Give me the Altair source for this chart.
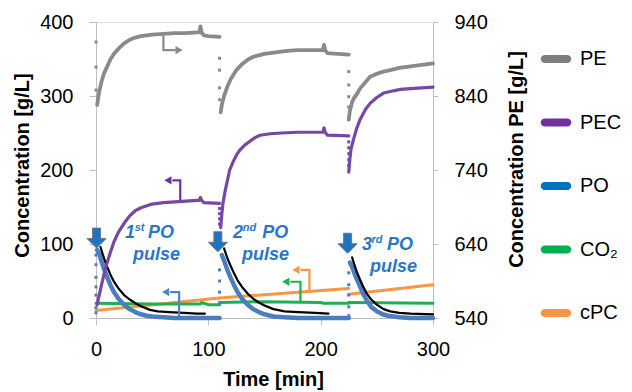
import altair as alt
import pandas as pd

# ---------------- data ----------------
# PE (right axis, g/L), three segments
PE_T = [[1, 2, 3, 5, 7, 10, 13, 16, 20, 25, 30, 35, 40, 50, 60, 70, 80, 90, 92, 93, 94, 96, 100, 110],
        [111, 112, 114, 117, 120, 125, 130, 135, 140, 150, 160, 170, 180, 190, 200, 202, 203, 204, 206, 215, 225],
        [225, 226, 228, 230, 232, 235, 240, 244, 250, 256, 262, 270, 280, 290, 300]]
PE_V = [[828, 838, 847, 860, 870, 880, 890, 897, 904, 911, 916, 919, 921, 923, 924, 925, 925, 926, 926, 934, 926, 922, 921, 920],
        [818, 828, 840, 853, 863, 875, 883, 889, 893, 897, 899, 901, 902, 902, 902, 902, 909, 902, 898, 897, 896],
        [808, 820, 832, 838, 842, 850, 859, 866, 870, 873, 875, 878, 880, 882, 884]]
PE_DOT_T = [0, 0, 0, 110, 110, 110, 110, 225, 225, 225, 225]
PE_DOT_V = [913, 879, 848, 891, 875, 851, 835, 873, 855, 839, 825]

PEC_T = [[1, 2, 3, 5, 8, 12, 16, 20, 25, 30, 35, 40, 50, 60, 70, 80, 90, 92, 93, 94, 96, 110],
         [111, 112, 113, 115, 117, 119, 122, 125, 128, 132, 137, 142, 146, 155, 165, 180, 200, 202, 203, 204, 206, 225],
         [225, 226, 227, 229, 232, 235, 240, 244, 250, 256, 262, 271, 280, 290, 300]]
PEC_V = [[18, 25, 32, 45, 65, 85, 103, 116, 128, 138, 145, 149, 154, 156, 157, 158, 159, 159, 163, 159, 156, 155],
         [122, 140, 155, 172, 186, 200, 211, 220, 227, 233, 239, 244, 247, 249, 250, 251, 251, 251, 257, 251, 247, 246],
         [197, 215, 228, 240, 256, 268, 282, 290, 298, 304, 306, 309, 310, 311, 312]]
PEC_DOT_T = [110, 110, 110, 110, 225, 225, 225, 225, 225]
PEC_DOT_V = [148, 141, 134, 127, 238, 230, 222, 214, 206]

PO_T = [[1, 3, 5, 7, 10, 13, 16, 20, 25, 30, 35, 40, 45, 50, 60, 70, 110],
        [112, 114, 116, 118, 120, 123, 126, 130, 135, 140, 145, 150, 158, 168, 180, 225],
        [226, 228, 230, 232, 235, 238, 241, 245, 250, 255, 260, 265, 270, 280, 300]]
PO_V = [[92, 86, 76, 67, 55, 44, 35, 26, 18, 12, 8, 5, 3, 2, 1, 0, 0],
        [85, 78, 69, 61, 54, 44, 35, 26, 18, 12, 8, 5, 2, 1, 0, 0],
        [75, 69, 61, 53, 43, 32, 24, 15, 9, 5, 3, 2, 1, 0, 0]]
PO_DOT_T = [0, 0, 0, 0, 0, 0, 0, 110, 110, 110, 110, 225, 225, 225, 225, 225]
PO_DOT_V = [85, 72, 55, 42, 31, 14, 7, 65, 50, 35, 20, 61, 45, 31, 15, 3]

MODEL_T = [[4, 6, 8, 10, 13, 16, 20, 25, 30, 35, 40, 48, 55, 65, 78, 90, 97],
           [114, 116, 118, 120, 123, 126, 130, 135, 140, 145, 150, 158, 168, 180, 195, 207],
           [228, 230, 232, 235, 238, 241, 245, 250, 256, 262, 270, 280, 300]]
MODEL_V = [[96, 86, 77, 69, 58, 49, 40, 31, 25, 20, 16, 11, 9, 8, 7, 6, 6],
           [94, 85, 77, 70, 60, 51, 42, 33, 26, 21, 17, 12, 9, 8, 7, 6],
           [82, 72, 63, 52, 42, 33, 25, 18, 12, 9, 7, 6, 5]]

CO2_T = [[0, 50, 93, 94, 100, 110], [110, 150, 200, 202, 225], [225, 300]]
CO2_V = [[20, 19, 19, 21, 18, 18], [21, 22, 21, 20, 20], [21, 20]]

CPC_T = [[0, 110], [110, 225], [225, 300]]
CPC_V = [[10, 27], [27, 40], [32, 45]]

# bent axis-pointer arrows: (t list, value list, tip t, tip v, tip direction, colour, axis)
POINTERS = [
    ([60, 60, 71], [922, 902, 902], 74, 902, "triangle-right", "#8a8a8a", "right"),
    ([75, 75, 68], [159, 186, 186], 64, 186, "triangle-left", "#7030a0", "left"),
    ([74, 74, 66], [2, 35, 35], 62, 35, "triangle-left", "#4f83c6", "left"),
    ([190, 190, 182], [36, 65, 65], 178, 65, "triangle-left", "#f79646", "left"),
    ([182, 182, 173], [21, 49, 49], 169, 49, "triangle-left", "#1fae50", "left"),
]

# pulse markers
PULSE_T = [0.5, 108.5, 224]
PULSE_V = [108, 103, 101]

# pulse labels
LBL_T = [25.8, 122.0, 236.8, 46.3, 148.0, 259.0, 32.9, 130.0, 243.9]
LBL_V = [108, 108, 92, 108, 108, 92, 78, 78, 62]
LBL_TXT = ["1", "2", "3", "PO", "PO", "PO", "pulse", "pulse", "pulse"]
SUP_T = [34.4, 130.6, 245.3]
SUP_V = [117, 117, 101]
SUP_TXT = ["st", "nd", "rd"]

LEG_NAMES = ["PE", "PEC", "PO", "CO₂", "cPC"]
LEG_COLORS = ["#7f7f7f", "#7030a0", "#0070c0", "#00b050", "#f79646"]

# ---------------- chart ----------------
FONT = "Liberation Sans"
AX = "#bfbfbf"

X = alt.X("t:Q", scale=alt.Scale(domain=[0, 300], nice=False, zero=False),
          axis=alt.Axis(values=[0, 100, 200, 300], title="Time [min]", grid=False,
                        domainColor=AX, tickColor=AX, tickSize=7, labelPadding=14,
                        labelFont=FONT, labelFontSize=20, labelColor="black", labelFlush=False,
                        titleFont=FONT, titleFontSize=20, titleFontWeight="bold", titleColor="black",
                        titleX=177, titleY=61, titleBaseline="middle", titleAlign="center"))

YL = alt.Y("v:Q", scale=alt.Scale(domain=[0, 400], nice=False, zero=False),
           axis=alt.Axis(values=[0, 100, 200, 300, 400], title="Concentration [g/L]", grid=False,
                         domainColor=AX, tickColor=AX, tickSize=7, labelPadding=16,
                         labelFont=FONT, labelFontSize=20, labelColor="black", labelFlush=False,
                         titleFont=FONT, titleFontSize=20, titleFontWeight="bold", titleColor="black",
                         titleAngle=270, titleX=-74, titleY=143, titleAlign="center",
                         titleBaseline="middle"))

YR = alt.Y("v:Q", scale=alt.Scale(domain=[540, 940], nice=False, zero=False),
           axis=alt.Axis(orient="right", values=[540, 640, 740, 840, 940],
                         title="Concentration PE [g/L]", grid=False,
                         domainColor=AX, tickColor=AX, tickSize=5, labelPadding=16,
                         labelFont=FONT, labelFontSize=20, labelColor="black", labelFlush=False,
                         titleFont=FONT, titleFontSize=20, titleFontWeight="bold", titleColor="black",
                         titleAngle=270, titleX=83, titleY=137, titleAlign="center",
                         titleBaseline="middle"))


def seg_df(ts, vs):
    rows = []
    for s, (tt, vv) in enumerate(zip(ts, vs)):
        for i, (a, b) in enumerate(zip(tt, vv)):
            rows.append({"t": a, "v": b, "seg": s, "i": i})
    return pd.DataFrame(rows)


def line(ts, vs, color, width, y):
    return alt.Chart(seg_df(ts, vs)).mark_line(
        color=color, strokeWidth=width, strokeCap="round", strokeJoin="round"
    ).encode(x=X, y=y, detail="seg:N", order="i:Q")


def dots(ts, vs, color, y):
    return alt.Chart(pd.DataFrame({"t": ts, "v": vs})).mark_square(
        color=color, size=9, filled=True, opacity=1).encode(x=X, y=y)


left_layers = [
    line(CPC_T, CPC_V, "#f79646", 3, YL),
    line(CO2_T, CO2_V, "#1fae50", 3, YL),
    line(PO_T, PO_V, "#4a7ebf", 4.5, YL),
    dots(PO_DOT_T, PO_DOT_V, "#4a7ebf", YL),
    line(MODEL_T, MODEL_V, "black", 2.2, YL),
    line(PEC_T, PEC_V, "#7448a3", 3.2, YL),
    dots(PEC_DOT_T, PEC_DOT_V, "#7448a3", YL),
]
right_layers = [
    line(PE_T, PE_V, "#8a8a8a", 3.8, YR),
    dots(PE_DOT_T, PE_DOT_V, "#8a8a8a", YR),
]

for tt, vv, tipt, tipv, shape, col, side in POINTERS:
    y = YR if side == "right" else YL
    pl = alt.Chart(pd.DataFrame({"t": tt, "v": vv, "i": list(range(len(tt)))})).mark_line(
        color=col, strokeWidth=2.2).encode(x=X, y=y, order="i:Q")
    tip = alt.Chart(pd.DataFrame({"t": [tipt], "v": [tipv]})).mark_point(
        shape=shape, filled=True, color=col, size=70, opacity=1).encode(x=X, y=y)
    if side == "right":
        right_layers += [pl, tip]
    else:
        left_layers += [pl, tip]

ARROW = "M-0.4,-1 L0.4,-1 L0.4,0.05 L0.95,0.05 L0,1 L-0.95,0.05 L-0.4,0.05 Z"
left_layers.append(
    alt.Chart(pd.DataFrame({"t": PULSE_T, "v": PULSE_V})).mark_point(
        shape=ARROW, size=400, filled=True, fill="#1f74c2", stroke="#6b7785",
        strokeWidth=1, opacity=1).encode(x=X, y=YL))

TXT_COLOR = "#2a78c4"
left_layers.append(
    alt.Chart(pd.DataFrame({"t": LBL_T, "v": LBL_V, "txt": LBL_TXT})).mark_text(
        font=FONT, fontSize=18, fontStyle="italic", fontWeight="bold", color=TXT_COLOR,
        align="left", baseline="alphabetic").encode(x=X, y=YL, text="txt:N"))
left_layers.append(
    alt.Chart(pd.DataFrame({"t": SUP_T, "v": SUP_V, "txt": SUP_TXT})).mark_text(
        font=FONT, fontSize=11, fontStyle="italic", fontWeight="bold", color=TXT_COLOR,
        align="left", baseline="alphabetic").encode(x=X, y=YL, text="txt:N"))

LEG_PATH = ("M-0.75,-0.27 L0.75,-0.27 A0.27,0.27 0 0 1 0.75,0.27 "
            "L-0.75,0.27 A0.27,0.27 0 0 1 -0.75,-0.27 Z")
legend_layer = alt.Chart(pd.DataFrame({"name": LEG_NAMES})).mark_point(
    filled=True, opacity=0, size=1).encode(
    x=alt.value(0), y=alt.value(0),
    color=alt.Color("name:N", scale=alt.Scale(domain=LEG_NAMES, range=LEG_COLORS),
                    legend=alt.Legend(orient="none", legendX=445, legendY=22, title=None,
                                      symbolType=LEG_PATH, symbolSize=900, symbolOpacity=1,
                                      symbolStrokeWidth=0, labelFont=FONT, labelFontSize=20,
                                      labelColor="black", labelOffset=9, rowPadding=38.5,
                                      padding=0, labelLimit=200)))
left_layers.append(legend_layer)

chart = alt.layer(alt.layer(*left_layers), alt.layer(*right_layers)).resolve_scale(
    y="independent"
).properties(
    width=337, height=296,
    autosize=alt.AutoSizeParams(type="none"),
    padding={"left": 88, "top": 14, "right": 191, "bottom": 74},
).configure_view(stroke=None).configure(background="white")

chart.save("out.html", embed_options={"renderer": "svg", "actions": False})
